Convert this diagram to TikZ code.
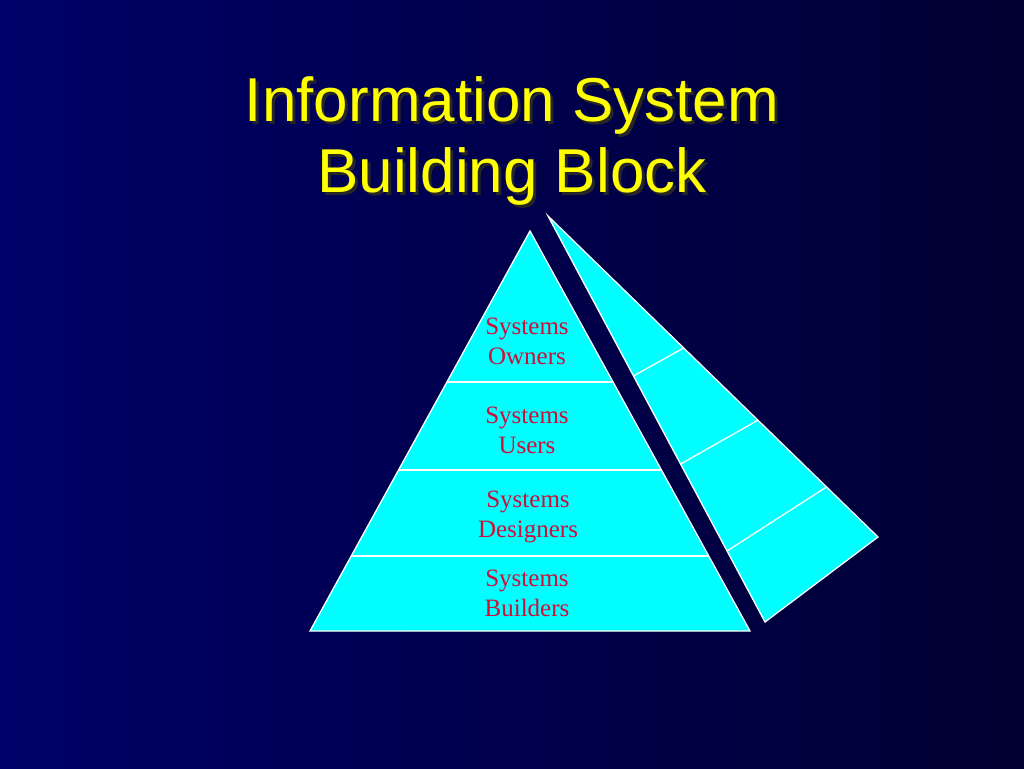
\documentclass[tikz,border=0pt]{standalone}
\usepackage{fontspec}
\setmainfont{Liberation Serif}
\newfontfamily\titlefont{Liberation Sans}
\usetikzlibrary{calc}
\definecolor{bgleft}{RGB}{0,0,104}
\definecolor{bgright}{RGB}{0,0,50}
\definecolor{facecyan}{RGB}{0,255,255}
\definecolor{labelred}{RGB}{204,16,56}
\definecolor{titleyellow}{RGB}{255,255,0}
\tikzset{
  face/.style={draw=white, line width=1.3pt, fill=facecyan, line join=miter},
  divider/.style={draw=white, line width=1.3pt},
  tier/.style={text=labelred, font=\fontsize{25}{30}\selectfont, align=center, inner sep=0pt, anchor=north},
  heading/.style={text=titleyellow, font=\titlefont\fontsize{62}{71}\selectfont, align=center, inner sep=0pt},
}

\begin{document}
\begin{tikzpicture}[x=1pt, y=-1pt]
  \shade[left color=bgleft, right color=bgright] (0,0) rectangle (1024,768);
  \useasboundingbox (0,0) rectangle (1024,768);

  % title with drop shadow
  \node[heading, text=black!85] (titleshadow) at (515,144) {Information System\\Building Block};
  \node[heading] (title) at (512,141) {Information System\\Building Block};

  % front face
  \coordinate (apex) at (530,231);
  \coordinate (baseL) at (310,631);
  \coordinate (baseR) at (750,631);
  \draw[face] (apex) -- (baseL) -- (baseR) -- cycle;
  \foreach \f in {0.3775,0.5975,0.8125}
    \draw[divider] ($(apex)!\f!(baseL)$) -- ($(apex)!\f!(baseR)$);

  % side face
  \coordinate (sideTop) at (548,216);
  \coordinate (sideL) at (765,622);
  \coordinate (sideR) at (878,537);
  \draw[face] (sideTop) -- (sideL) -- (sideR) -- cycle;
  \foreach \a/\b in {0.394/0.411, 0.611/0.636, 0.825/0.844}
    \draw[divider] ($(sideTop)!\a!(sideL)$) -- ($(sideTop)!\b!(sideR)$);

  % tier labels
  \node[tier] (owners) at (527,318) {Systems\\Owners};
  \node[tier] (users) at (527,407) {Systems\\Users};
  \node[tier] (designers) at (528,491) {Systems\\Designers};
  \node[tier] (builders) at (527,570) {Systems\\Builders};
\end{tikzpicture}
\end{document}
